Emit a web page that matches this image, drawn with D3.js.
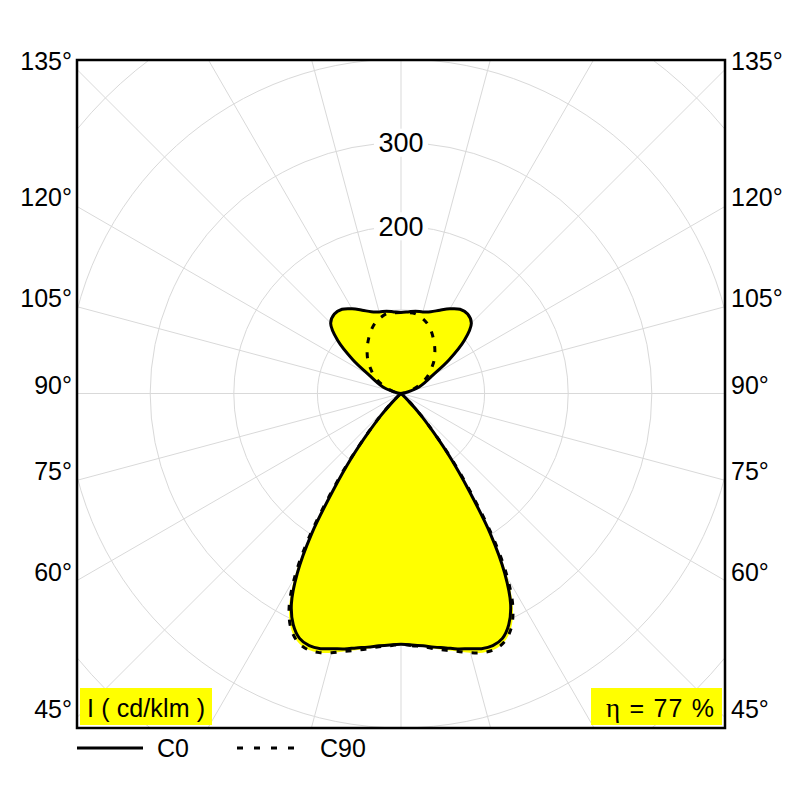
<!DOCTYPE html>
<html>
<head>
<meta charset="utf-8">
<script src="https://cdn.jsdelivr.net/npm/d3@7"></script>
<style>
  body { margin: 0; background: #fff; }
  svg { display: block; font-family: "Liberation Sans", Arial, sans-serif; }
</style>
</head>
<body>
<script>
// gamma angles (deg, 0 = straight down) and intensities in cd/klm
var GAMMA = [0, 2.5, 5, 7.5, 10, 12.5, 15, 17.5, 20, 22.5, 25, 27.5, 30, 32.5, 35, 37.5, 40, 42.5, 45,
  50, 55, 60, 65, 70, 75, 80, 85, 90, 95, 100, 105, 110, 115, 120, 125, 130, 135, 140, 145, 150, 155, 160, 165, 170, 175, 180];
var C0 = [300, 301, 303, 306, 309, 313, 316, 320, 321, 317, 305, 284, 248, 199, 142, 98, 60, 35, 15,
  2, 0, 0, 0, 0, 0, 0, 0, 0, 0, 4, 12, 23, 32, 44, 70, 99, 119, 124, 123, 117, 110, 104, 101, 100, 98, 97];
var C90 = [300, 302, 304, 308, 312, 316, 321, 325, 326, 322, 311, 290, 255, 206, 149, 102, 62, 36, 15,
  2, 0, 0, 0, 0, 0, 0, 0, 0, 0, 4, 10, 17, 25, 33, 41, 48, 56, 63, 70, 77, 84, 90, 94, 97, 97, 97];
var RINGS = [100, 200, 300, 400, 500, 600];
var RING_LABELS = [200, 300];
var SPOKES = d3.range(0, 360, 15);
var ANGLE_LABELS = [45, 60, 75, 90, 105, 120, 135];

var W = 800, H = 800;
var cx = 401, cy = 393.5;
var frame = {x0: 77, y0: 60, x1: 725, y1: 728};

var r = d3.scaleLinear().domain([0, 100]).range([0, 83.6]);

var svg = d3.select('body').append('svg').attr('width', W).attr('height', H);

svg.append('clipPath').attr('id', 'clip')
  .append('rect')
  .attr('x', frame.x0).attr('y', frame.y0)
  .attr('width', frame.x1 - frame.x0).attr('height', frame.y1 - frame.y0);

var plot = svg.append('g').attr('clip-path', 'url(#clip)');
var g = plot.append('g').attr('transform', 'translate(' + cx + ',' + cy + ')');

// grid
g.selectAll('circle.ring').data(RINGS).enter().append('circle')
  .attr('class', 'ring')
  .attr('r', function(d) { return r(d); })
  .attr('fill', 'none').attr('stroke', '#d9d9d9').attr('stroke-width', 1);

g.selectAll('line.spoke').data(SPOKES).enter().append('line')
  .attr('class', 'spoke')
  .attr('x1', 0).attr('y1', 0)
  .attr('x2', function(d) { return 700 * Math.sin(d * Math.PI / 180); })
  .attr('y2', function(d) { return 700 * Math.cos(d * Math.PI / 180); })
  .attr('stroke', '#d9d9d9').attr('stroke-width', 1);

// closed curve: right half gamma 0..180, left half mirrored back
function curvePoints(vals) {
  var pts = [];
  GAMMA.forEach(function(gm, i) { pts.push([Math.PI - gm * Math.PI / 180, r(vals[i])]); });
  for (var i = GAMMA.length - 2; i > 0; i--) {
    pts.push([Math.PI + GAMMA[i] * Math.PI / 180, r(vals[i])]);
  }
  return pts;
}

var radial = d3.lineRadial()
  .angle(function(d) { return d[0]; })
  .radius(function(d) { return d[1]; })
  .curve(d3.curveCatmullRomClosed.alpha(0.5));

g.append('path').attr('d', radial(curvePoints(C90))).attr('fill', '#ffff00');
g.append('path').attr('d', radial(curvePoints(C0))).attr('fill', '#ffff00');

g.append('path').attr('d', radial(curvePoints(C90)))
  .attr('fill', 'none').attr('stroke', '#000').attr('stroke-width', 3)
  .attr('stroke-dasharray', '6,9');
g.append('path').attr('d', radial(curvePoints(C0)))
  .attr('fill', 'none').attr('stroke', '#000').attr('stroke-width', 3)
  .attr('stroke-linejoin', 'round');

// ring labels with white backing
var rl = svg.selectAll('g.rl').data(RING_LABELS).enter().append('g')
  .attr('class', 'rl')
  .attr('transform', function(d) { return 'translate(' + cx + ',' + (cy - r(d)) + ')'; });
rl.append('rect').attr('x', -27).attr('y', -14).attr('width', 54).attr('height', 28).attr('fill', '#fff');
rl.append('text').attr('text-anchor', 'middle').attr('y', 9.6)
  .attr('font-size', 27).attr('fill', '#000')
  .text(function(d) { return d; });

// frame
svg.append('rect')
  .attr('x', frame.x0).attr('y', frame.y0)
  .attr('width', frame.x1 - frame.x0).attr('height', frame.y1 - frame.y0)
  .attr('fill', 'none').attr('stroke', '#000').attr('stroke-width', 2.5);

// angle labels where spokes hit the side frame
function sideY(a) {
  var t = a * Math.PI / 180;
  return cy + (cx - frame.x0) * Math.cos(t) / Math.sin(t);
}
svg.selectAll('text.al').data(ANGLE_LABELS).enter().append('text')
  .attr('class', 'al').attr('x', 72).attr('y', function(d) { return sideY(d); })
  .attr('text-anchor', 'end').attr('font-size', 25)
  .text(function(d) { return d + '°'; });
svg.selectAll('text.ar').data(ANGLE_LABELS).enter().append('text')
  .attr('class', 'ar').attr('x', 731).attr('y', function(d) { return sideY(d); })
  .attr('text-anchor', 'start').attr('font-size', 25)
  .text(function(d) { return d + '°'; });

// unit and efficiency boxes
svg.append('rect').attr('x', 80).attr('y', 688).attr('width', 132).attr('height', 37).attr('fill', '#ffff00');
svg.append('text').attr('x', 87).attr('y', 717).attr('font-size', 25)
  .attr('textLength', 118).attr('lengthAdjust', 'spacing').text('I ( cd/klm )');

svg.append('rect').attr('x', 591).attr('y', 688).attr('width', 131).attr('height', 37).attr('fill', '#ffff00');
var eta = svg.append('text').attr('x', 606).attr('y', 717).attr('font-size', 25)
  .attr('textLength', 108).attr('lengthAdjust', 'spacing');
eta.append('tspan').attr('font-family', '"Liberation Serif", serif').attr('font-size', 27).text('η');
eta.append('tspan').text(' = 77 %');

// legend
svg.append('line').attr('x1', 77).attr('x2', 143).attr('y1', 748).attr('y2', 748)
  .attr('stroke', '#000').attr('stroke-width', 3);
svg.append('text').attr('x', 157).attr('y', 757).attr('font-size', 25).text('C0');
svg.append('line').attr('x1', 237).attr('x2', 296).attr('y1', 748).attr('y2', 748)
  .attr('stroke', '#000').attr('stroke-width', 3).attr('stroke-dasharray', '6,11');
svg.append('text').attr('x', 320).attr('y', 757).attr('font-size', 25).text('C90');
</script>
</body>
</html>
